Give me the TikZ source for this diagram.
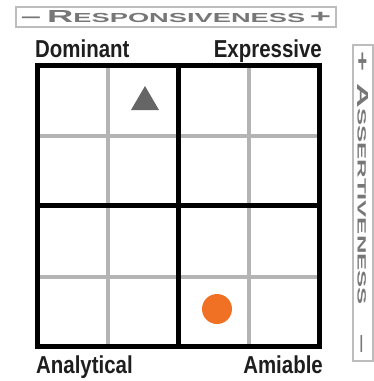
\documentclass[tikz,border=0pt]{standalone}
\usepackage{fontspec}
\usepackage{graphicx}
\newfontfamily\quadfont[FakeStretch=0.86]{Liberation Sans}
\newfontfamily\axisfont{Liberation Sans}
\definecolor{gridgray}{HTML}{B4B4B4}
\definecolor{axisgray}{HTML}{BDBDBD}
\definecolor{axistext}{HTML}{777777}
\definecolor{markgray}{HTML}{656565}
\definecolor{markorange}{HTML}{F07124}
\definecolor{quadtext}{HTML}{1E1E1E}
\newcommand{\axislabel}[3]{\resizebox{#1}{#2}{\axisfont\bfseries #3}}

\begin{document}
\begin{tikzpicture}[x=1pt,y=-1pt]
\tikzset{gridline/.style={line width=4pt,draw=gridgray}}
\tikzset{quadline/.style={line width=5pt,draw=black}}
\tikzset{quadlabel/.style={inner sep=0pt,text=quadtext,font=\quadfont\bfseries\fontsize{24.5}{25}\selectfont}}
\tikzset{axisbox/.style={draw=axisgray,line width=1.2pt,text=axistext,inner sep=0pt}}

\useasboundingbox (0,0) rectangle (374,381);

\foreach \g in {108,249} {
  \draw[gridline] (\g,65) -- (\g,346);
}
\foreach \g in {136,277} {
  \draw[gridline] (37,\g) -- (319,\g);
}
\draw[quadline] (178,65) -- (178,346);
\draw[quadline] (37,205) -- (319,205);
\draw[quadline,line join=miter] (37,65) rectangle (319,346);

\fill[markgray] (131,110) -- (159,110) -- (145,86) -- cycle;
\fill[markorange] (217,309) circle (15);

\node[quadlabel,anchor=base west,xscale=0.97] (dominant) at (35,57) {Dominant};
\node[quadlabel,anchor=base east,xscale=0.97] (expressive) at (322,57) {Expressive};
\node[quadlabel,anchor=base west,xscale=0.97] (analytical) at (36,373) {Analytical};
\node[quadlabel,anchor=base east,xscale=0.97] (amiable) at (323,373) {Amiable};

\node[axisbox,minimum width=320pt,minimum height=20pt] (responsiveness) at (176,17)
  {\axislabel{310pt}{12pt}{{\fontsize{10}{10}\selectfont –\,R}{\fontsize{7.5}{8}\selectfont ESPONSIVENESS\,}{\fontsize{10}{10}\selectfont +}}};
\node[axisbox,rotate=-90,minimum width=316pt,minimum height=20pt] (assertiveness) at (363,203)
  {\axislabel{302pt}{11pt}{{\fontsize{10}{10}\selectfont +\,\,A}{\fontsize{7.5}{8}\selectfont SSERTIVENESS\quad\,}{\fontsize{10}{10}\selectfont –}}};
\end{tikzpicture}
\end{document}
